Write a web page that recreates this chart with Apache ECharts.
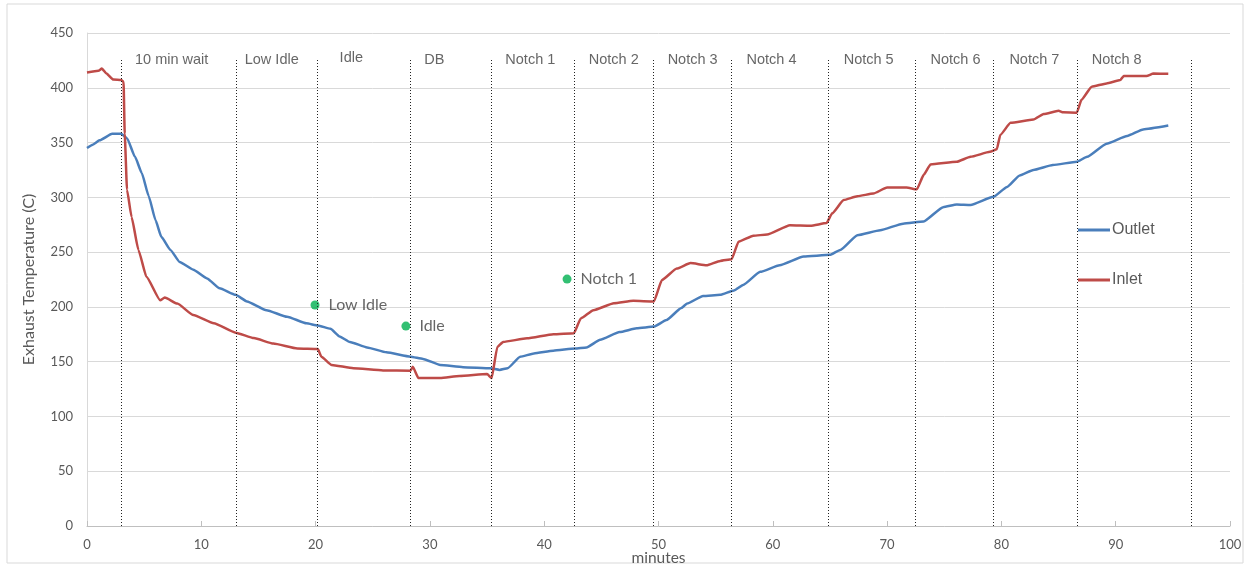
<!DOCTYPE html>
<html>
<head>
<meta charset="utf-8">
<script src="https://cdn.jsdelivr.net/npm/echarts@6/dist/echarts.min.js"></script>
<style>html,body{margin:0;padding:0;background:#fff}#c{width:1250px;height:567px}</style>
</head>
<body>
<div id="c"></div>
<script>
// ---- data ----
const outletMinutes = [0,0.5,1.1,2.2,3.0,3.5,4.2,4.8,5.4,6.0,6.5,7.3,8.1,9.3,10.5,11.6,13.0,14.0,15.7,17.5,19.2,20.2,21.3,22.1,23.0,24.5,26.2,28.3,29.4,30.9,32.9,35.3,36.1,36.8,37.9,39.1,40.8,42.7,43.7,44.9,46.6,48.1,49.6,50.7,52.0,52.5,53.9,55.4,56.6,57.4,58.9,60.6,62.7,65.0,65.9,67.4,69.4,71.4,73.2,74.9,76.1,77.3,79.3,80.5,81.6,82.8,84.5,86.6,87.5,89.2,91.0,92.4,94.6];
const outletTemp = [345,348,352,358,358,354,337,322,301,279,264,252,241,234,226,217,211,205,197,191,185,183,180,173,168,163,158.5,154.5,152.5,147,145,144,142.5,144,154.5,157.5,160,162,163,170,177,180.5,182,188,199,203,210,211,215,220,232,238,246,247.5,252,265.5,270,276,278,291,293.5,293,300.5,309.5,320,325,329.5,332.5,337,349,356,362,365.5];
const inletMinutes = [0,1.0,1.3,1.7,2.3,3.0,3.2,3.3,3.5,3.9,4.5,5.2,6.4,6.8,7.9,9.3,11.1,13.0,14.6,16.3,18.4,20.2,20.5,21.4,23.3,25.9,28.3,28.5,29.0,30.9,32.6,35.0,35.4,35.9,36.4,38.5,40.8,42.6,43.2,44.3,46.1,47.8,49.6,50.3,51.6,52.8,54.2,55.4,56.4,57.0,58.3,59.5,61.5,63.3,64.7,65.2,66.2,67.4,68.8,70.0,71.7,72.6,73.2,73.8,76.1,77.3,79.0,79.6,79.9,80.8,82.8,83.7,85.0,85.4,86.6,87.0,87.9,89.2,90.4,90.7,92.7,93.3,94.6];
const inletTemp = [414,415.5,417.5,413,407.5,407,405.5,358,307,282,252,227.5,206,208.5,203,192.5,185,176.5,171.5,166.5,162,161.5,154.5,147,144,142,141.8,145.4,135,135,137,138.7,135,163.5,168,171.3,175,176,189.5,197,203.3,205.5,205,224.5,235,240,238,242,243.5,259.5,265,266,274.5,274,276.5,285.5,297.5,301,303.5,309,309,307.3,320.5,330,332.5,337,341.5,343.8,357,368,371,376,379,377.6,377.3,389,401,404,407,410.7,410.7,413,412.8];
const phaseBoundaries = [2.96,13.06,20.18,28.3,35.33,42.64,49.5,56.35,64.87,72.45,79.33,86.6,96.6];
const phaseNames = ["10 min wait","Low Idle","Idle","DB","Notch 1","Notch 2","Notch 3","Notch 4","Notch 5","Notch 6","Notch 7","Notch 8"];
const phaseLabelMinutes = [4.2,13.8,22.1,29.5,36.6,43.9,50.8,57.7,66.2,73.8,80.7,87.9];
const phaseLabelTemp = [425,425,427,425,425,425,425,425,425,425,425,425];
const markerNames = ["Low Idle","Idle","Notch 1"];
const markerMinutes = [19.95,27.9,42.0];
const markerTemp = [201.7,182.5,225.4];
const xTicks = [0,10,20,30,40,50,60,70,80,90,100];
const yTicks = [0,50,100,150,200,250,300,350,400,450];

const zip = (a,b) => a.map((v,i)=>[v,b[i]]);
const chart = echarts.init(document.getElementById('c'));
const axisFont = {fontFamily:'Lato', fontSize:13, color:'#595959'};
const nameFont = {fontFamily:'Lato', fontSize:15.5, color:'#595959'};

chart.setOption({
  animation:false,
  graphic:[{type:'rect', shape:{x:7,y:4,width:1236,height:559}, style:{fill:'none', stroke:'#d9d9d9', lineWidth:1}, silent:true, z:-1}],
  grid:{left:87, right:20, top:33, bottom:41, containLabel:false, outerBoundsMode:'none'},
  legend:{
    orient:'vertical', left:1073, top:217, itemGap:34,
    itemWidth:32, itemHeight:3, icon:'rect',
    textStyle:{fontFamily:'Liberation Sans', fontSize:16, color:'#595959', padding:[0,0,0,-3]},
    data:['Outlet','Inlet']
  },
  xAxis:{
    type:'value', min:xTicks[0], max:xTicks[xTicks.length-1], interval:10,
    name:'minutes', nameLocation:'middle', nameGap:24, nameMoveOverlap:false,
    nameTextStyle:nameFont,
    axisLine:{show:true, lineStyle:{color:'#bfbfbf', width:1}},
    axisTick:{show:true, inside:true, length:5, lineStyle:{color:'#bfbfbf'}},
    axisLabel:Object.assign({margin:12}, axisFont),
    splitLine:{show:false}
  },
  yAxis:{
    type:'value', min:yTicks[0], max:yTicks[yTicks.length-1], interval:50,
    name:'Exhaust Temperature (C)', nameLocation:'middle', nameGap:50, nameMoveOverlap:false,
    nameTextStyle:Object.assign({}, nameFont, {fontSize:16}),
    axisLine:{show:true, lineStyle:{color:'#d9d9d9'}},
    axisTick:{show:false},
    axisLabel:Object.assign({margin:14}, axisFont),
    splitLine:{show:true, lineStyle:{color:'#d9d9d9', width:1}}
  },
  series:[
    {
      name:'Outlet', type:'line', data:zip(outletMinutes,outletTemp),
      showSymbol:false, symbol:'none', smooth:0.15, smoothMonotone:'x',
      lineStyle:{color:'#4A7EBB', width:2.5}, itemStyle:{color:'#4A7EBB'}, z:3,
      markLine:{
        silent:true, symbol:'none', animation:false,
        lineStyle:{color:'#222', type:[1,2], width:1},
        label:{show:false},
        data: phaseBoundaries.map(x=>[{coord:[x,0]},{coord:[x,427]}])
      }
    },
    {
      name:'Inlet', type:'line', data:zip(inletMinutes,inletTemp),
      showSymbol:false, symbol:'none', smooth:0.15, smoothMonotone:'x',
      lineStyle:{color:'#BE4B48', width:2.5}, itemStyle:{color:'#BE4B48'}, z:3
    },
    {
      name:'phases', type:'scatter', symbolSize:0, silent:true,
      data: phaseNames.map((n,i)=>({name:n, value:[phaseLabelMinutes[i], phaseLabelTemp[i]]})),
      label:{show:true, position:'right', distance:0, formatter:p=>p.name,
        fontFamily:'Liberation Sans', fontSize:14.5, color:'#404040'}
    },
    {
      name:'markers', type:'scatter', symbol:'circle', symbolSize:9, silent:true,
      itemStyle:{color:'#00B050'},
      data: markerNames.map((n,i)=>({name:n, value:[markerMinutes[i], markerTemp[i]]})),
      label:{show:true, position:'right', distance:9, formatter:p=>p.name,
        fontFamily:'Lato', fontSize:16, color:'#404040'}
    }
  ]
});
</script>
</body>
</html>
